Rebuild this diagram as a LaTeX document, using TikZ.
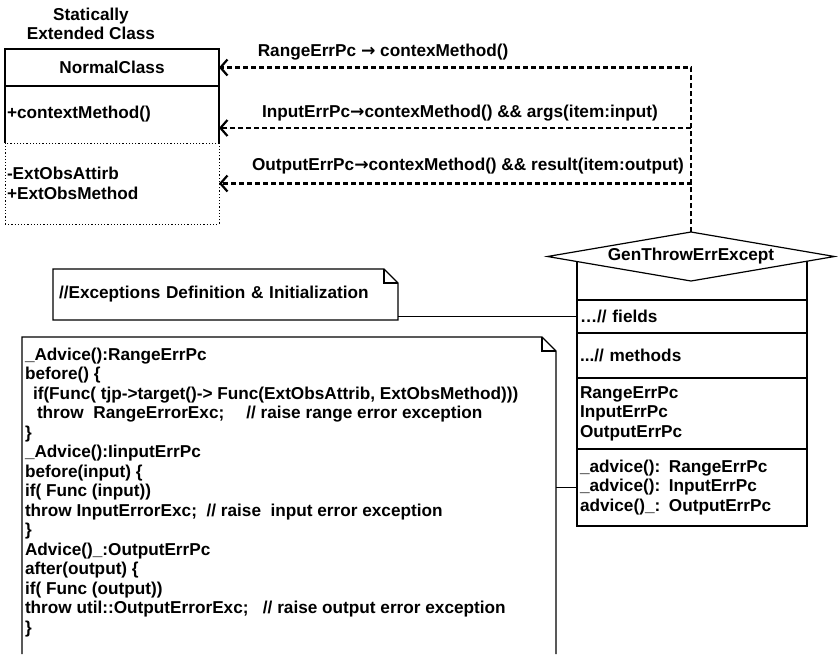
\documentclass[tikz,border=0pt]{standalone}
\usepackage{fontspec}
\setmainfont{Liberation Sans}
\newfontfamily\arrowfont{DejaVu Sans}
\usetikzlibrary{positioning,shapes.geometric,arrows.meta}

\newcommand{\pcarrow}{{\arrowfont\bfseries →}}

\begin{document}
\begin{tikzpicture}[
        x=1pt, y=-1pt,
        every node/.style={font=\fontsize{17.2}{19.5}\selectfont\bfseries, inner sep=0pt, outer sep=0pt},
        cmpl/.style={draw, line width=1.2pt, minimum width=214pt, text width=210pt, inner xsep=2pt, align=left},
        cmpr/.style={draw, line width=1.2pt, minimum width=230pt, text width=224pt, inner xsep=3pt, align=left},
        dotn/.style={draw, dotted, line width=1pt},
        dep/.style={draw, line width=2.2pt, dash pattern=on 5pt off 3pt, -{Straight Barb[length=7pt,width=16pt]}},
        notel/.style={line width=1.2pt},
    ]
    \useasboundingbox (0,0) rectangle (838,654);

    % statically extended class
    \node[align=center] (title) at (91,24) {Statically\\Extended Class};
    \node[cmpl, align=center, minimum height=37pt] (ncname) at (112,67.5) {NormalClass};
    \node[cmpl, draw=none, minimum height=57pt, below=0pt of ncname] (ncmeth) {+contextMethod()};
    \draw[line width=1.2pt] (ncmeth.south west) |- (ncmeth.north east) -- (ncmeth.south east);
    \node[cmpl, dotn, minimum height=81pt, below=0pt of ncmeth] (ncext) {-ExtObsAttirb\\+ExtObsMethod};

    % aspect class
    \node[cmpr, minimum height=42pt] (genhead) at (692,279) {};
    \node[cmpr, minimum height=33pt, below=0pt of genhead] (genfld) {…// fields};
    \node[cmpr, minimum height=45pt, below=0pt of genfld] (genmth) {...// methods};
    \node[cmpr, minimum height=71pt, below=0pt of genmth] (genpc) {RangeErrPc\\InputErrPc\\OutputErrPc};
    \node[cmpr, minimum height=77pt, below=0pt of genpc] (genadv) {\_advice(): RangeErrPc\\\_advice(): InputErrPc\\advice()\_: OutputErrPc};
    \node[diamond, draw, fill=white, line width=1.2pt, aspect=5.8, minimum width=287pt, minimum height=49pt] (gen) at (691,256.5) {GenThrowErrExcept};

    % pointcuts
    \draw[dep] (gen.north) |- (ncname.east);
    \draw[dep] (gen.north) |- ([yshift=-13.5pt]ncmeth.east);
    \draw[dep] (gen.north) |- (ncext.east);
    \node (rlbl) at (383,52) {RangeErrPc \pcarrow{} contexMethod()};
    \node (ilbl) at (460,113) {InputErrPc\pcarrow contexMethod() \&\& args(item:input)};
    \node (olbl) at (468,166) {OutputErrPc\pcarrow contexMethod() \&\& result(item:output)};

    % notes
    \node[minimum width=345pt, minimum height=51pt, text width=333pt, inner xsep=6pt, align=left] (note1) at (225.5,294.5) {//Exceptions Definition \& Initialization};
    \draw[notel] (note1.south west) |- ([xshift=-14pt]note1.north east) -- ([yshift=-14pt]note1.north east) -- (note1.south east) -- cycle;
    \draw[notel] ([xshift=-14pt]note1.north east) |- ([yshift=-14pt]note1.north east);
    \draw[notel] (note1.east |- genfld.west) -- (genfld.west);

    \node[minimum width=534pt, minimum height=317pt] (note2) at (289,495.5) {};
    \draw[notel] (note2.south west) |- ([xshift=-14pt]note2.north east) -- ([yshift=-14pt]note2.north east) -- (note2.south east);
    \draw[notel] ([xshift=-14pt]note2.north east) |- ([yshift=-14pt]note2.north east);
    \draw[notel] (note2.east |- genadv.west) -- (genadv.west);
    \node[anchor=north west, align=left] (code) at ([xshift=3pt,yshift=-11pt]note2.north west) {%
        \_Advice():RangeErrPc\\
        before() \{\\
        \hspace*{8pt}if(Func( tjp->target()-> Func(ExtObsAttrib, ExtObsMethod)))\\
        \hspace*{12pt}throw\ \ RangeErrorExc;\quad\ // raise range error exception\\
        \}\\
        \_Advice():IinputErrPc\\
        before(input) \{\\
        if( Func (input))\\
        throw InputErrorExc;\ \ // raise\ \ input error exception\\
        \}\\
        Advice()\_:OutputErrPc\\
        after(output) \{\\
        if( Func (output))\\
        throw util::OutputErrorExc;\ \ \ // raise output error exception\\
        \}};
\end{tikzpicture}
\end{document}
